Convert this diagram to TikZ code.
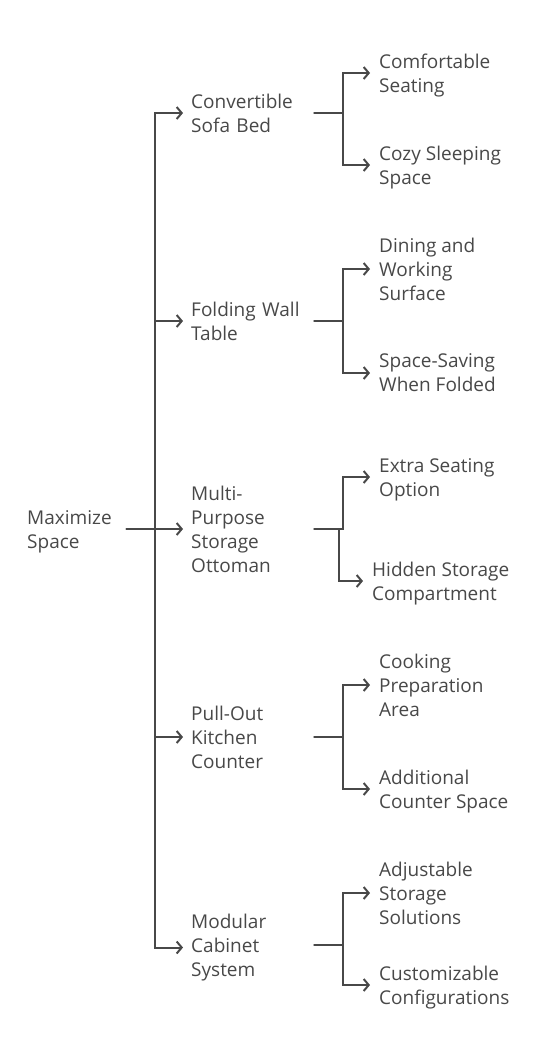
\documentclass[tikz,border=0pt]{standalone}
\usepackage{fontspec}
\setmainfont{Open Sans}
\usetikzlibrary{arrows.meta}
\definecolor{treegray}{HTML}{484848}

\begin{document}
\begin{tikzpicture}[x=1pt, y=-1pt, line cap=round,
    txt/.style={font=\fontsize{19}{24}\selectfont, text=treegray, align=left, inner ysep=0pt},
    topic/.style={txt, anchor=west, inner xsep=0pt, text width=99pt},
    idea/.style={txt, anchor=west, inner xsep=8pt, text width=115pt},
    leaf/.style={txt, anchor=west, inner xsep=9pt},
    link/.style={draw=treegray, line width=2pt},
    tip/.style={link, -{Straight Barb[length=5pt,width=12pt]}}]
  \useasboundingbox (0,0) rectangle (552,1058);
  % root (last line has a descender, hence the half points)
  \node[topic] (root) at (27,531.5) {Maximize\\Space};
  % first level
  \node[idea] (sofa) at (183,113) {Convertible\\Sofa Bed};
  \node[idea] (table) at (183,321) {Folding Wall\\Table};
  \node[idea] (ottoman) at (183,529) {Multi-\\Purpose\\Storage\\Ottoman};
  \node[idea] (counter) at (183,737) {Pull-Out\\Kitchen\\Counter};
  \node[idea] (cabinet) at (183,947.5) {Modular\\Cabinet\\System};
  % second level
  \node[leaf] (seating) at (370,75.5) {Comfortable\\Seating};
  \node[leaf] (sleeping) at (370,167.5) {Cozy Sleeping\\Space};
  \node[leaf] (dining) at (370,269) {Dining and\\Working\\Surface};
  \node[leaf] (folded) at (370,373) {Space-Saving\\When Folded};
  \node[leaf] (extra) at (370,479.5) {Extra Seating\\Option};
  \node[leaf] (hidden) at (363,583.5) {Hidden Storage\\Compartment};
  \node[leaf] (cooking) at (370,685) {Cooking\\Preparation\\Area};
  \node[leaf] (additional) at (370,791.5) {Additional\\Counter Space};
  \node[leaf] (adjustable) at (370,893) {Adjustable\\Storage\\Solutions};
  \node[leaf] (custom) at (370,987.5) {Customizable\\Configurations};
  % trunk
  \coordinate (trunk) at (155,0);
  \draw[tip] (cabinet.west -| trunk) -- (sofa.west -| trunk) -- (sofa.west);
  \draw[tip] (sofa.west -| trunk) -- (cabinet.west -| trunk) -- (cabinet.west);
  \draw[tip] (table.west -| trunk) -- (table.west);
  \draw[tip] (counter.west -| trunk) -- (counter.west);
  \draw[tip] (root.east |- ottoman.west) -- (ottoman.west);
  % branches
  \draw[tip] (sofa.east) -- ++(29,0) |- ([yshift=2.5pt]seating.west);
  \draw[tip] (sofa.east) -- ++(29,0) |- ([yshift=2.5pt]sleeping.west);
  \draw[tip] (table.east) -- ++(29,0) |- (dining.west);
  \draw[tip] (table.east) -- ++(29,0) |- (folded.west);
  \draw[tip] (ottoman.east) -- ++(29,0) |- ([yshift=2.5pt]extra.west);
  \draw[tip] (ottoman.east) -- ++(25,0) |- ([yshift=2.5pt]hidden.west);
  \draw[tip] (counter.east) -- ++(29,0) |- (cooking.west);
  \draw[tip] (counter.east) -- ++(29,0) |- ([yshift=2.5pt]additional.west);
  \draw[tip] ([yshift=2.5pt]cabinet.east) -- ++(29,0) |- (adjustable.west);
  \draw[tip] ([yshift=2.5pt]cabinet.east) -- ++(29,0) |- ([yshift=2.5pt]custom.west);
\end{tikzpicture}
\end{document}
